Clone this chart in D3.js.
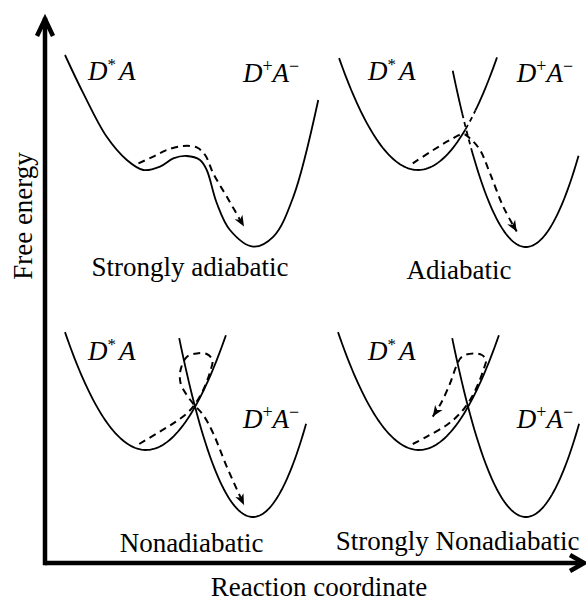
<!DOCTYPE html>
<html>
<head>
<meta charset="utf-8">
<script src="https://cdn.jsdelivr.net/npm/d3@7"></script>
<style>
  html, body { margin: 0; padding: 0; background: #fff; }
  svg { display: block; }
</style>
</head>
<body>
<svg id="chart" width="586" height="602"></svg>
<script>
// ---- data (reaction coordinate 0..10, free energy 0..10 in each panel) ----
const panelTitles = ["Strongly adiabatic", "Adiabatic", "Nonadiabatic", "Strongly Nonadiabatic"];

// lower adiabatic surface for the strongly coupled case
const adiabaticSurface = [
  [0.37, 9.75], [1.05, 7.83], [1.91, 5.67], [2.66, 4.5], [3.27, 4.0], [3.89, 4.17],
  [4.38, 4.58], [4.88, 4.7], [5.37, 4.5], [5.62, 4.0], [5.99, 2.35], [6.48, 1.0],
  [7.34, 0.17], [8.09, 0.67], [8.83, 2.67], [9.75, 7.5]
];

// diabatic D*A well: E = min + k (x - centre)^2
const reactantCentre    = [null, 3.33, 3.37, 3.37];
const reactantMinimum   = [null, 4.0, 3.5, 3.5];
const reactantCurvature = [null, 0.656, 0.655, 0.655];
const reactantRange     = [null, [0.41, 6.26], [0.37, 6.33], [0.37, 6.33]];

// diabatic D+A- well
const productCentre    = [null, 7.33, 7.33, 7.33];
const productMinimum   = [null, 0.15, 0.15, 0.15];
const productCurvature = [null, 1.2, 1.2, 1.2];
const productRange     = [null, [4.62, 9.28], [4.6, 9.3], [4.6, 9.3]];

// stretches near the crossing drawn dashed
const reactantDashed = [null, [5.11, 5.5], null, null];
const productDashed  = [null, [4.97, 5.32], null, null];

// dashed reaction paths (end in an arrowhead)
const trajectories = [
  [[3.09, 4.33], [3.64, 4.67], [4.14, 5.0], [4.75, 5.2], [5.25, 5.13], [5.56, 4.75],
   [5.86, 3.83], [6.36, 2.67], [7.0, 1.17]],
  [[3.14, 4.33], [3.9, 5.0], [4.52, 5.5], [5.01, 5.8], [5.26, 5.58], [5.63, 5.0],
   [6.0, 3.83], [6.49, 2.17], [6.99, 0.92]],
  [[3.12, 3.8], [3.77, 4.33], [4.38, 4.83], [4.88, 5.33], [5.16, 5.75], [5.49, 6.5],
   [5.74, 7.4], [5.83, 8.0], [5.62, 8.3], [5.25, 8.33], [4.88, 8.15], [4.65, 7.5],
   [4.65, 6.85], [4.88, 6.25], [5.16, 5.75], [5.49, 5.25], [5.86, 4.33], [6.36, 2.67],
   [7.0, 0.75]],
  [[3.14, 3.8], [3.66, 4.17], [4.4, 4.75], [4.89, 5.33], [5.26, 6.0], [5.57, 6.83],
   [5.78, 7.6], [5.85, 8.0], [5.7, 8.25], [5.38, 8.33], [4.96, 8.17], [4.77, 7.75],
   [4.52, 6.83], [4.19, 5.85], [3.88, 5.17]]
];

// ---- layout ----
const FONT = "'Liberation Serif', 'Times New Roman', Times, 'DejaVu Serif', serif";
const svg = d3.select("#chart");
const panelOrigin = [[55, 250], [328, 250], [55, 520], [328, 520]];
const reactantLabelAt = [[1.22, 8.5], [1.48, 8.5], [1.22, 8.0], [1.48, 8.0]];
const productLabelAt  = [[6.96, 8.4], [6.99, 8.4], [6.96, 4.6], [6.99, 4.6]];
const titleAt         = [[5.0, -1.3], [4.85, -1.45], [5.06, -1.6], [4.8, -1.5]];

const defs = svg.append("defs");
defs.append("marker")
  .attr("id", "head")
  .attr("viewBox", "-1 -6 14 12")
  .attr("markerUnits", "userSpaceOnUse")
  .attr("markerWidth", 14).attr("markerHeight", 12)
  .attr("refX", 11).attr("refY", 0)
  .attr("orient", "auto")
  .append("path")
  .attr("d", "M0,-4.5L11,0L0,4.5L3,0Z")
  .attr("fill", "#000");

function parabola(c, m, k, from, to) {
  const n = 80, pts = [];
  for (let i = 0; i <= n; i++) {
    const x = from + (to - from) * i / n;
    pts.push([x, m + k * (x - c) * (x - c)]);
  }
  return pts;
}

// split a curve into solid / dashed stretches
function pieces(pts, dashed) {
  if (!dashed) return [{ pts, dash: false }];
  const inD = p => p[0] >= dashed[0] && p[0] <= dashed[1];
  const out = [];
  let cur = null;
  pts.forEach(p => {
    const d = inD(p);
    if (!cur || cur.dash !== d) {
      const prev = cur ? cur.pts[cur.pts.length - 1] : null;
      cur = { pts: prev ? [prev] : [], dash: d };
      out.push(cur);
    }
    cur.pts.push(p);
  });
  return out;
}

panelTitles.forEach((title, i) => {
  const [ox, oy] = panelOrigin[i];
  const x = d3.scaleLinear().domain([0, 10]).range([ox, ox + 270]);
  const y = d3.scaleLinear().domain([0, 10]).range([oy, oy - 200]);
  const g = svg.append("g");

  const smooth = d3.line().x(d => x(d[0])).y(d => y(d[1])).curve(d3.curveCatmullRom.alpha(0.5));
  const plain = d3.line().x(d => x(d[0])).y(d => y(d[1]));

  const drawCurve = (pts, dashed) => {
    pieces(pts, dashed).forEach(seg => {
      g.append("path")
        .attr("d", plain(seg.pts))
        .attr("fill", "none").attr("stroke", "#000").attr("stroke-width", 1.8)
        .attr("stroke-dasharray", seg.dash ? "5,4" : null);
    });
  };

  if (reactantCentre[i] === null) {
    g.append("path").attr("d", smooth(adiabaticSurface))
      .attr("fill", "none").attr("stroke", "#000").attr("stroke-width", 1.8);
  } else {
    const r = parabola(reactantCentre[i], reactantMinimum[i], reactantCurvature[i], reactantRange[i][0], reactantRange[i][1]);
    const p = parabola(productCentre[i], productMinimum[i], productCurvature[i], productRange[i][0], productRange[i][1]);
    drawCurve(r, reactantDashed[i]);
    drawCurve(p, productDashed[i]);
  }

  g.append("path").attr("d", smooth(trajectories[i]))
    .attr("fill", "none").attr("stroke", "#000").attr("stroke-width", 2)
    .attr("stroke-dasharray", "7,5")
    .attr("marker-end", "url(#head)");

  // state labels
  const rl = g.append("text").attr("x", x(reactantLabelAt[i][0])).attr("y", y(reactantLabelAt[i][1]))
    .attr("font-family", FONT).attr("font-size", 27);
  rl.append("tspan").attr("font-style", "italic").text("D");
  rl.append("tspan").attr("font-size", 17).attr("dy", -10).text("*");
  rl.append("tspan").attr("font-style", "italic").attr("dy", 10).attr("dx", 3).text("A");

  const pl = g.append("text").attr("x", x(productLabelAt[i][0])).attr("y", y(productLabelAt[i][1]))
    .attr("font-family", FONT).attr("font-size", 27);
  pl.append("tspan").attr("font-style", "italic").text("D");
  pl.append("tspan").attr("font-size", 18).attr("dy", -10).text("+");
  pl.append("tspan").attr("font-style", "italic").attr("dy", 10).text("A");
  pl.append("tspan").attr("font-size", 18).attr("dy", -10).text("\u2212");

  g.append("text").attr("x", x(titleAt[i][0])).attr("y", y(titleAt[i][1]))
    .attr("font-family", FONT).attr("text-anchor", "middle").attr("font-size", 27).text(title);
});

// axes
const axes = svg.append("g").attr("stroke", "#000").attr("stroke-width", 4.5).attr("fill", "none");
axes.append("path").attr("d", "M45,563V20").attr("stroke-linecap", "square");
axes.append("path").attr("d", "M45,563H582");
axes.append("path").attr("d", "M37,36L45,19L53,36").attr("stroke-linejoin", "miter");
axes.append("path").attr("d", "M570,555L584,563L570,571").attr("stroke-linejoin", "miter");

svg.append("text").attr("x", 319).attr("y", 596).attr("text-anchor", "middle")
  .attr("font-family", FONT).attr("font-size", 27).text("Reaction coordinate");
svg.append("text").attr("transform", "translate(32,216) rotate(-90)")
  .attr("font-family", FONT).attr("text-anchor", "middle").attr("font-size", 27).text("Free energy");
</script>
</body>
</html>
